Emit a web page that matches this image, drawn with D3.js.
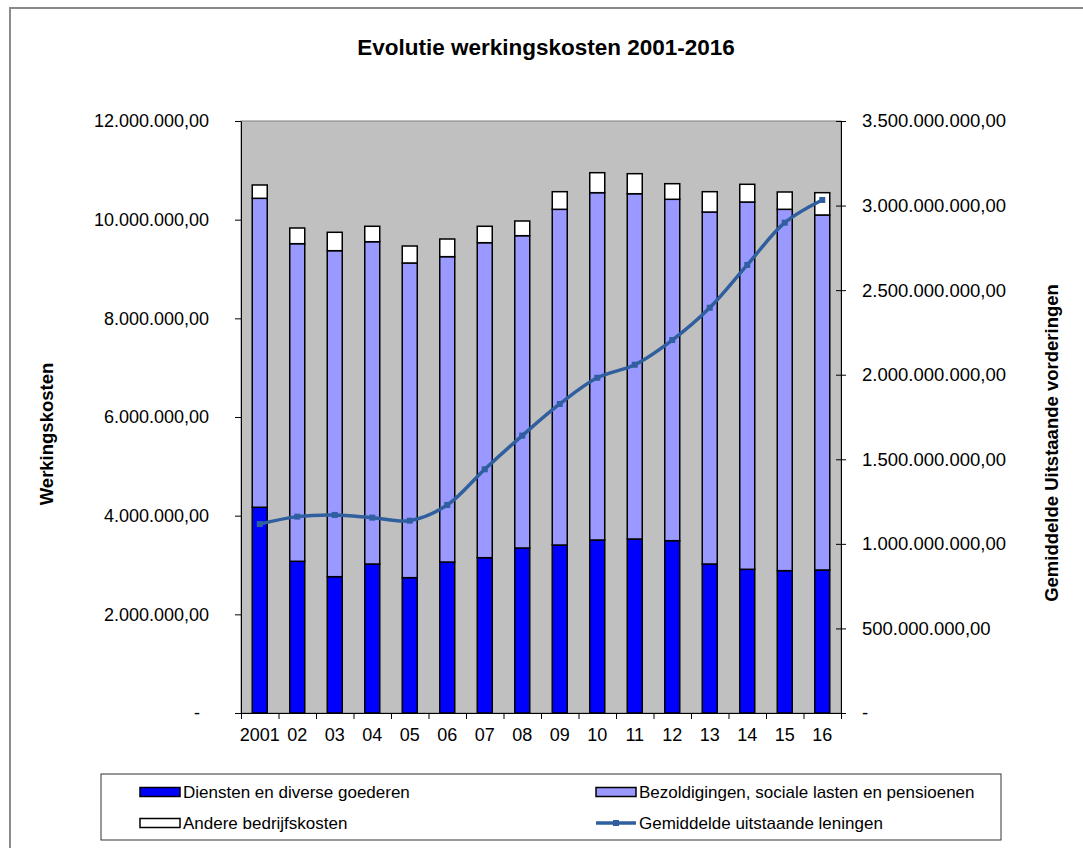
<!DOCTYPE html>
<html>
<head>
<meta charset="utf-8">
<script src="https://cdn.jsdelivr.net/npm/d3@7"></script>
<style>
body { margin: 0; background: #fff; }
text { font-family: "Liberation Sans", Arial, sans-serif; fill: #000; }
</style>
</head>
<body>
<script>
// data
let years = ["2001","02","03","04","05","06","07","08","09","10","11","12","13","14","15","16"];
let diensten = [4170000, 3075000, 2763000, 3020000, 2743000, 3060000, 3148000, 3345000,
	3405000, 3507000, 3527000, 3493000, 3020000, 2913000, 2885000, 2899000];
let bezoldigingen = [6263000, 6438000, 6608000, 6533000, 6379000, 6190000, 6385000, 6330000,
	6805000, 7040000, 6999000, 6920000, 7135000, 7445000, 7325000, 7196000];
let andere = [270000, 318000, 373000, 313000, 344000, 358000, 333000, 298000,
	357000, 405000, 406000, 316000, 412000, 359000, 351000, 452000];
let leningen = [1117e6, 1161e6, 1171e6, 1155e6, 1137e6, 1230e6, 1441e6, 1640e6,
	1827e6, 1982e6, 2059e6, 2205e6, 2396e6, 2649e6, 2899e6, 3033e6];
let leftTicks = [0, 2e6, 4e6, 6e6, 8e6, 10e6, 12e6];
let rightTicks = [0, 5e8, 1e9, 1.5e9, 2e9, 2.5e9, 3e9, 3.5e9];

let keys = ["diensten", "bezoldigingen", "andere"];
let colors = {diensten: "#0000FF", bezoldigingen: "#9999FF", andere: "#FFFFFF"};
let lineColor = "#2F5F9E";

let rows = years.map(function(y, i) {
	return {year: y, diensten: diensten[i], bezoldigingen: bezoldigingen[i], andere: andere[i], leningen: leningen[i]};
});

let margin = {top: 121, right: 242, bottom: 135, left: 241},
	width = 1083 - margin.left - margin.right,
	height = 848 - margin.top - margin.bottom;

let nl = d3.formatLocale({decimal: ",", thousands: ".", grouping: [3], currency: ["", ""]});
let fmt = nl.format(",.2f");

let x = d3.scaleBand().domain(years).range([0, width]).paddingInner(0.6).paddingOuter(0.3),
	xEdges = d3.scaleLinear().domain([0, years.length]).range([0, width]),
	yL = d3.scaleLinear().domain([0, 12e6]).range([height, 0]),
	yR = d3.scaleLinear().domain([0, 3.5e9]).range([height, 0]);

let root = d3.select("body").append("svg")
	.attr("width", 1083)
	.attr("height", 848);

// outer chart frame
root.append("rect")
	.attr("x", 10).attr("y", 8)
	.attr("width", 1100).attr("height", 900)
	.attr("fill", "none").attr("stroke", "#8a8a8a").attr("stroke-width", 2);

root.append("text")
	.attr("x", 546).attr("y", 55)
	.attr("text-anchor", "middle")
	.style("font-size", "22.5px").style("font-weight", "bold")
	.text("Evolutie werkingskosten 2001-2016");

let svg = root.append("g")
	.attr("transform", "translate(" + margin.left + "," + margin.top + ")");

svg.append("rect")
	.attr("width", width).attr("height", height)
	.attr("fill", "#C0C0C0").attr("stroke", "#808080");

let stacked = d3.stack().keys(keys)(rows);

svg.selectAll("g.layer")
	.data(stacked)
	.enter().append("g")
	.attr("class", "layer")
	.attr("fill", function(d) { return colors[d.key]; })
	.selectAll("rect")
	.data(function(d) { return d; })
	.enter().append("rect")
	.attr("x", function(d) { return x(d.data.year); })
	.attr("y", function(d) { return yL(d[1]); })
	.attr("width", x.bandwidth())
	.attr("height", function(d) { return yL(d[0]) - yL(d[1]); })
	.attr("stroke", "#000")
	.attr("stroke-width", 1.5);

// line on the right axis
let line = d3.line()
	.x(function(d) { return x(d.year) + x.bandwidth() / 2; })
	.y(function(d) { return yR(d.leningen); })
	.curve(d3.curveCatmullRom);

svg.append("path")
	.datum(rows)
	.attr("d", line)
	.attr("fill", "none")
	.attr("stroke", lineColor)
	.attr("stroke-width", 3.5);

svg.selectAll("rect.marker")
	.data(rows)
	.enter().append("rect")
	.attr("class", "marker")
	.attr("x", function(d) { return x(d.year) + x.bandwidth() / 2 - 3; })
	.attr("y", function(d) { return yR(d.leningen) - 3; })
	.attr("width", 6).attr("height", 6)
	.attr("fill", lineColor);

// axes
let leftAxis = svg.append("g")
	.call(d3.axisLeft(yL).tickValues(leftTicks).tickSize(6).tickSizeOuter(0).tickPadding(26)
		.tickFormat(function(v) { return v === 0 ? "-" : fmt(v); }));
leftAxis.selectAll("text").style("font-size", "18px")
	.attr("dx", function(d) { return d === 0 ? -9 : 0; });

let rightAxis = svg.append("g")
	.attr("transform", "translate(" + width + ",0)")
	.call(d3.axisRight(yR).tickValues(rightTicks).tickSize(5).tickSizeOuter(0).tickPadding(16)
		.tickFormat(function(v) { return v === 0 ? "-" : fmt(v); }));
rightAxis.selectAll(".tick line").attr("x1", -5);
rightAxis.selectAll("text").style("font-size", "18.5px");

svg.append("g")
	.attr("transform", "translate(0," + height + ")")
	.call(d3.axisBottom(xEdges).tickValues(d3.range(years.length + 1)).tickSize(6).tickFormat(""));

let bottomLabels = svg.append("g")
	.attr("transform", "translate(0," + height + ")")
	.call(d3.axisBottom(x).tickSize(0).tickPadding(15));
bottomLabels.select(".domain").remove();
bottomLabels.selectAll("text").style("font-size", "18px");

svg.selectAll(".domain").attr("stroke", "#000");
svg.selectAll(".tick line").attr("stroke", "#000");

root.append("text")
	.attr("transform", "translate(47,434) rotate(-90)")
	.attr("text-anchor", "middle").attr("dy", "0.35em")
	.style("font-size", "18.5px").style("font-weight", "bold")
	.text("Werkingskosten");

root.append("text")
	.attr("transform", "translate(1052,443) rotate(-90)")
	.attr("text-anchor", "middle").attr("dy", "0.35em")
	.style("font-size", "18.5px").style("font-weight", "bold")
	.text("Gemiddelde Uitstaande vorderingen");

// legend
let legend = root.append("g");
legend.append("rect")
	.attr("x", 101).attr("y", 774)
	.attr("width", 900).attr("height", 66)
	.attr("fill", "#fff").attr("stroke", "#333");

let legendItems = [
	{label: "Diensten en diverse goederen", key: "diensten", x: 140, y: 792},
	{label: "Bezoldigingen, sociale lasten en pensioenen", key: "bezoldigingen", x: 596, y: 792},
	{label: "Andere bedrijfskosten", key: "andere", x: 140, y: 823},
	{label: "Gemiddelde uitstaande leningen", key: "line", x: 596, y: 823}
];

let li = legend.selectAll("g.item")
	.data(legendItems)
	.enter().append("g")
	.attr("class", "item")
	.attr("transform", function(d) { return "translate(" + d.x + "," + d.y + ")"; });

li.filter(function(d) { return d.key !== "line"; })
	.append("rect")
	.attr("x", 0).attr("y", -4.5)
	.attr("width", 40).attr("height", 9)
	.attr("fill", function(d) { return colors[d.key]; })
	.attr("stroke", "#000").attr("stroke-width", 1.5);

let lineItem = li.filter(function(d) { return d.key === "line"; });
lineItem.append("line")
	.attr("x1", 0).attr("x2", 40)
	.attr("stroke", lineColor).attr("stroke-width", 3.5);
lineItem.append("rect")
	.attr("x", 17).attr("y", -3).attr("width", 6).attr("height", 6)
	.attr("fill", lineColor);

li.append("text")
	.attr("x", 43).attr("dy", "0.35em")
	.style("font-size", "17px")
	.text(function(d) { return d.label; });
</script>
</body>
</html>
